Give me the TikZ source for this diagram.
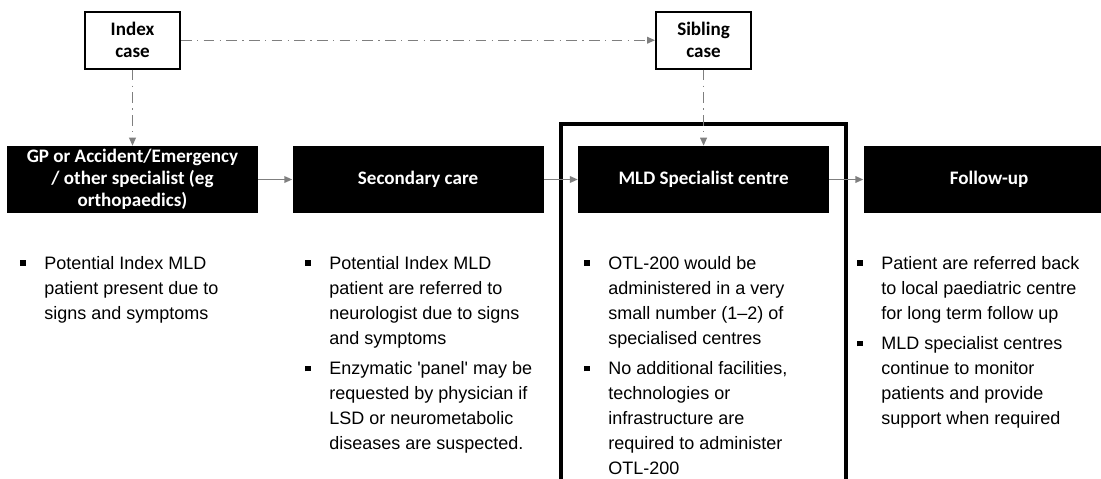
\documentclass[tikz,border=0pt]{standalone}
\usepackage{fontspec}
\setmainfont{Liberation Sans}
\newfontfamily\boxfont{Carlito}
\usetikzlibrary{positioning, arrows.meta}

\definecolor{linegray}{RGB}{127,127,127}
\newcommand{\bitem}[1]{\makebox[18pt][l]{\raisebox{2.4pt}{\rule{4pt}{4pt}}}\begin{tabular}[t]{@{}l@{}}#1\end{tabular}}

\tikzset{
  stage/.style={fill=black, text=white, minimum width=188.25pt, minimum height=50.25pt,
    align=center, inner sep=0pt, font=\boxfont\bfseries\fontsize{14.3}{16.5}\selectfont},
  casebox/.style={draw=black, line width=1.5pt, fill=white, minimum width=71.25pt,
    minimum height=42.75pt, align=center, inner sep=0pt, font=\boxfont\bfseries\fontsize{14.3}{16.5}\selectfont},
  flow/.style={draw=linegray, line width=1.1pt, -{Triangle[length=6pt,width=5pt]}},
  sibflow/.style={flow, dash pattern=on 8pt off 4pt on 1pt off 4pt},
  item/.style={inner sep=0pt, anchor=base west, font=\fontsize{13.5}{18.75}\selectfont},
  frame/.style={draw=black, line width=2.3pt}
}

\begin{document}
\begin{tikzpicture}[x=0.75pt, y=-0.75pt, node distance=3.75pt]
  \useasboundingbox (0,0) rectangle (1101,479);
  \clip (0,0) rectangle (1101,479);

  % pathway stages
  \node[stage] at (132.5,179.5) (gp)  {GP or Accident/Emergency\\/ other specialist (eg\\orthopaedics)};
  \node[stage, right=25.5pt of gp]  (sec) {Secondary care};
  \node[stage, right=25.5pt of sec] (mld) {MLD Specialist centre};
  \node[stage, right=25.5pt of mld] (fu)  {Follow-up};

  % cases
  \node[casebox, above=57pt of gp]  (index)   {Index\\case};
  \node[casebox, above=57pt of mld] (sibling) {Sibling\\case};

  \draw[frame] (561,495) -- (561,124) -- (846,124) -- (846,495);

  \draw[sibflow] (index) -- (sibling);
  \draw[sibflow] (index) -- (gp);
  \draw[sibflow] (sibling) -- (mld);
  \draw[flow] (gp) -- (sec);
  \draw[flow] (sec) -- (mld);
  \draw[flow] (mld) -- (fu);

  % bullet texts
  \node[item] at (20,269) (gp1) {\bitem{Potential Index MLD\\patient present due to\\signs and symptoms}};

  \node[item] at (305,269) (sec1) {\bitem{Potential Index MLD\\patient are referred to\\neurologist due to signs\\and symptoms}};
  \node[item, below=of sec1.south west, anchor=north west] (sec2) {\bitem{Enzymatic \textquotesingle panel\textquotesingle\ may be\\requested by physician if\\LSD or neurometabolic\\diseases are suspected.}};

  \node[item] at (584,269) (mld1) {\bitem{OTL-200 would be\\administered in a very\\small number (1--2) of\\specialised centres}};
  \node[item, below=of mld1.south west, anchor=north west] (mld2) {\bitem{No additional facilities,\\technologies or\\infrastructure are\\required to administer\\OTL-200}};

  \node[item] at (857,269) (fu1) {\bitem{Patient are referred back\\to local paediatric centre\\for long term follow up}};
  \node[item, below=of fu1.south west, anchor=north west] (fu2) {\bitem{MLD specialist centres\\continue to monitor\\patients and provide\\support when required}};
\end{tikzpicture}
\end{document}
